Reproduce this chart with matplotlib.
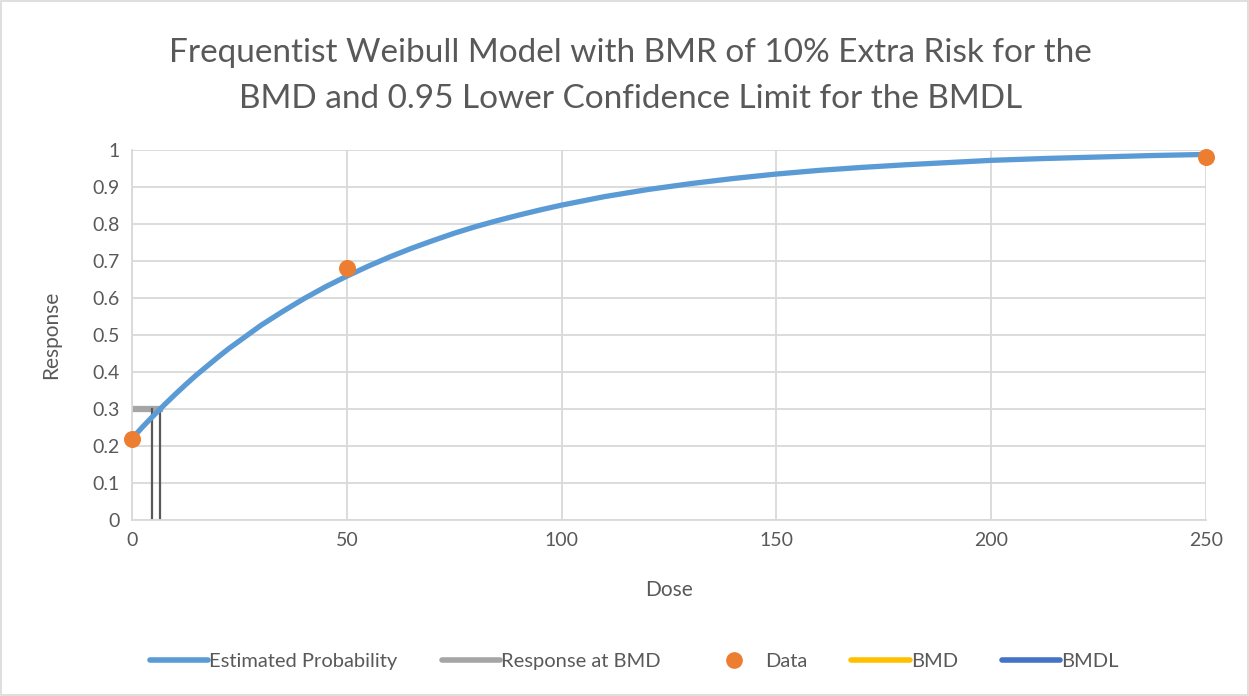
import matplotlib
matplotlib.use("Agg")
import matplotlib.pyplot as plt
from matplotlib.lines import Line2D

plt.rcParams['font.family'] = ['Lato', 'DejaVu Sans']

# Fitted Weibull curve (dose, estimated probability)
curve_dose = [0, 2.5, 5, 7.5, 10, 12.5, 15, 17.5, 20, 22.5, 25, 27.5, 30, 35,
              40, 45, 50, 55, 60, 65, 70, 75, 80, 85, 90, 95, 100, 110, 120,
              130, 140, 150, 160, 170, 180, 190, 200, 212.5, 225, 237.5, 250]
curve_prob = [0.220, 0.252, 0.282, 0.311, 0.339, 0.366, 0.392, 0.416, 0.440,
              0.463, 0.484, 0.505, 0.526, 0.563, 0.598, 0.630, 0.659, 0.686,
              0.711, 0.734, 0.755, 0.775, 0.793, 0.809, 0.824, 0.838, 0.851,
              0.874, 0.893, 0.909, 0.923, 0.935, 0.945, 0.953, 0.960, 0.966,
              0.972, 0.977, 0.981, 0.985, 0.988]

# Observed data
data_dose = [0, 50, 250]
data_resp = [0.22, 0.68, 0.98]

# Benchmark dose results
bmd = 6.5
bmdl = 4.7
bmd_response = 0.30

title = ("Frequentist Weibull Model with BMR of 10% Extra Risk for the\n"
         "BMD and 0.95 Lower Confidence Limit for the BMDL")

text_col = "#595959"
grid_col = "#D9D9D9"

fig = plt.figure(figsize=(12.49, 6.96), dpi=100)
fig.patch.set_facecolor("white")
fig.patches.append(plt.Rectangle((0.0008, 0.0014), 0.9984, 0.9972,
                                 transform=fig.transFigure, fill=False,
                                 edgecolor=grid_col, linewidth=1.2))

ax = fig.add_axes([0.1057, 0.2529, 0.8599, 0.5316])
ax.set_xlim(0, 250)
ax.set_ylim(0, 1)
ax.set_xticks(range(0, 251, 50))
ax.set_yticks([i / 10 for i in range(11)])
ax.set_yticklabels(["0", "0.1", "0.2", "0.3", "0.4", "0.5", "0.6", "0.7",
                    "0.8", "0.9", "1"])
ax.grid(True, color=grid_col, linewidth=1.3)
ax.set_axisbelow(True)
for s in ["top", "right"]:
    ax.spines[s].set_visible(False)
for s in ["left", "bottom"]:
    ax.spines[s].set_color(grid_col)
    ax.spines[s].set_linewidth(1.3)
ax.tick_params(length=0, labelsize=14, colors=text_col, pad=9)

est_col = "#5B9BD5"
resp_col = "#A5A5A5"
data_col = "#ED7D31"
bmd_col = "#FFC000"
bmdl_col = "#4472C4"
vline_col = "#595959"

ax.plot(curve_dose, curve_prob, color=est_col, linewidth=3.8,
        solid_capstyle="round", solid_joinstyle="round", zorder=3)
ax.plot([0, bmd], [bmd_response, bmd_response], color=resp_col, linewidth=4.5,
        zorder=2)
ax.plot([bmd, bmd], [0, bmd_response], color=vline_col, linewidth=1.6, zorder=2)
ax.plot([bmdl, bmdl], [0, bmd_response], color=vline_col, linewidth=1.6, zorder=2)
ax.scatter(data_dose, data_resp, s=150, color=data_col, zorder=4,
           clip_on=False, linewidths=0)

ax.set_xlabel("Dose", fontsize=15, color=text_col, labelpad=22)
ax.set_ylabel("Response", fontsize=15, color=text_col, labelpad=22)

fig.text(0.505, 0.891, title, ha="center", va="center", fontsize=24,
         color=text_col, linespacing=1.65)

handles = [
    Line2D([], [], color=est_col, linewidth=4, solid_capstyle="round"),
    Line2D([], [], color=resp_col, linewidth=4, solid_capstyle="round"),
    Line2D([], [], color=data_col, marker="o", markersize=11, linestyle="none"),
    Line2D([], [], color=bmd_col, linewidth=4, solid_capstyle="round"),
    Line2D([], [], color=bmdl_col, linewidth=4, solid_capstyle="round"),
]
labels = ["Estimated Probability", "Response at BMD", "Data", "BMD", "BMDL"]
leg = fig.legend(handles, labels, loc="center", bbox_to_anchor=(0.508, 0.05),
                 ncol=5, frameon=False, fontsize=14.5, handlelength=2.9,
                 handletextpad=0.05, columnspacing=2.2)
for t in leg.get_texts():
    t.set_color(text_col)

fig.savefig("out.png", dpi=100)
